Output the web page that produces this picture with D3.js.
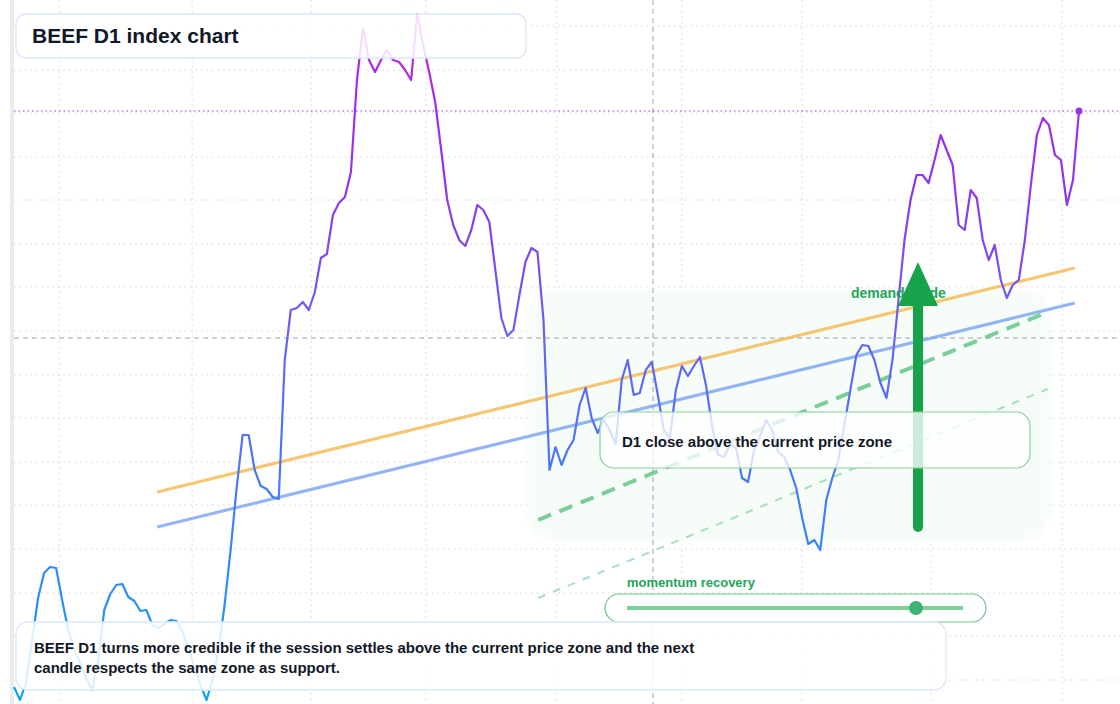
<!DOCTYPE html>
<html>
<head>
<meta charset="utf-8">
<script src="https://cdn.jsdelivr.net/npm/d3@7"></script>
<style>
  body { margin: 0; background: #fff; }
  svg { display: block; font-family: "Liberation Sans", Arial, sans-serif; }
</style>
</head>
<body>
<div id="chart"></div>
<script>
// daily closes
var closes = [51.7, 50.4, 52.1, 56.3, 60.6, 63.1, 63.7, 63.6, 60.4, 57.4, 55.4, 54.1, 52.6, 51.4, 54.4, 59.4,
  61.0, 61.9, 62.0, 60.7, 60.3, 59.3, 59.4, 57.9, 57.6, 58.0, 58.4, 58.3, 57.2, 55.6, 53.6, 51.9, 50.4, 52.4,
  55.4, 59.9, 65.4, 71.6, 76.9, 76.9, 73.4, 71.8, 71.5, 70.7, 70.5, 84.4, 89.4, 89.6, 90.2, 89.4, 91.2, 94.6,
  95.0, 98.9, 100.1, 100.7, 103.2, 112.4, 117.6, 114.4, 113.2, 114.4, 115.4, 114.4, 114.2, 113.4, 112.4, 119.0,
  115.9, 113.2, 110.2, 105.4, 100.4, 97.9, 96.4, 95.8, 97.4, 99.9, 99.4, 98.2, 93.4, 88.6, 86.8, 87.4, 90.9,
  94.2, 95.6, 95.2, 88.4, 73.4, 75.7, 73.9, 75.4, 76.4, 79.9, 81.6, 78.6, 77.1, 78.4, 77.4, 76.0, 82.4, 84.4,
  80.9, 81.1, 83.4, 84.2, 80.9, 77.4, 76.6, 81.4, 83.8, 82.8, 83.8, 84.7, 81.9, 77.9, 74.9, 74.7, 76.0, 75.6,
  72.6, 72.2, 75.4, 76.8, 78.4, 77.4, 75.2, 74.7, 73.4, 71.6, 68.6, 66.0, 66.4, 65.4, 70.4, 72.6, 74.4, 77.9,
  81.4, 84.9, 85.9, 85.8, 84.4, 82.1, 80.6, 84.4, 90.4, 96.4, 100.4, 102.9, 102.9, 102.1, 104.4, 106.9, 105.4,
  103.9, 97.9, 97.4, 101.4, 100.6, 96.4, 94.4, 95.9, 92.4, 90.6, 91.9, 92.4, 96.4, 101.9, 106.9, 108.6, 107.9,
  104.9, 104.4, 99.9, 102.4, 109.3];

var gridPrices = [117.8, 113.4, 109.1, 104.7, 100.4, 96.0, 91.7, 87.3, 82.9, 78.6, 74.2, 69.9, 65.5, 61.1, 56.8, 52.4];
var gridDays = [7.5, 29.6, 49.4, 68.5, 90.2, 111, 131, 152.4, 174.2];

// channel lines: [startDay, startPrice, endDay, endPrice]
var upperLine = [23.8, 71.2, 176.3, 93.6];
var lowerLine = [23.8, 67.7, 176.3, 90.1];
var zoneLine = [87.1, 68.4, 171.8, 89.2];
var floorLine = [87.1, 60.6, 171.8, 81.5];

var currentPrice = 86.6;
var crossDay = 106.2;
var lastPrice = closes[closes.length - 1];
var momentum = 0.86;

var W = 1120, H = 704;
var svg = d3.select("#chart").append("svg").attr("width", W).attr("height", H);

var x = d3.scaleLinear().domain([0, closes.length - 1]).range([14, 1079]);
var y = d3.scaleLinear().domain([50, 120.4]).range([704, 0]);

// left strip
svg.append("rect").attr("x", 10).attr("y", 0).attr("width", 4).attr("height", H).attr("fill", "#ebebeb");

// grid
svg.append("g").selectAll("line").data(gridPrices).join("line")
  .attr("x1", 14).attr("x2", W).attr("y1", d => y(d)).attr("y2", d => y(d))
  .attr("stroke", "#d4d4d8").attr("stroke-dasharray", "1.5,4");
svg.append("g").selectAll("line").data(gridDays).join("line")
  .attr("x1", d => x(d)).attr("x2", d => x(d)).attr("y1", 0).attr("y2", H)
  .attr("stroke", "#d4d4d8").attr("stroke-dasharray", "1.5,4");

// demand zone
var defs = svg.append("defs");
defs.append("filter").attr("id", "soft").append("feGaussianBlur").attr("stdDeviation", 4);
svg.append("rect").attr("x", 527).attr("y", 290).attr("width", 523).attr("height", 250).attr("rx", 26)
  .attr("fill", "#f6fcf7").attr("filter", "url(#soft)");

// crosshair
svg.append("line").attr("x1", x(crossDay)).attr("x2", x(crossDay)).attr("y1", 0).attr("y2", H)
  .attr("stroke", "#9ca3af").attr("stroke-dasharray", "5,4");
svg.append("line").attr("x1", 14).attr("x2", W).attr("y1", y(currentPrice)).attr("y2", y(currentPrice))
  .attr("stroke", "#9ca3af").attr("stroke-dasharray", "5,4");
svg.append("line").attr("x1", 14).attr("x2", W).attr("y1", y(lastPrice)).attr("y2", y(lastPrice))
  .attr("stroke", "#9b30f0").attr("stroke-dasharray", "1.5,3").attr("stroke-width", 1.2);

function seg(d, color, width, dash, op) {
  svg.append("line")
    .attr("x1", x(d[0])).attr("y1", y(d[1])).attr("x2", x(d[2])).attr("y2", y(d[3]))
    .attr("stroke", color).attr("stroke-width", width).attr("stroke-dasharray", dash)
    .attr("stroke-opacity", op).attr("stroke-linecap", "butt");
}
seg(floorLine, "#86d3a3", 2, "8,8", 0.7);
seg(zoneLine, "#5cc281", 4, "14,9", 0.8);
seg(upperLine, "#f5b74f", 3, null, 0.8);
seg(lowerLine, "#6f9cf2", 3, null, 0.75);

// price line with vertical colour gradient
var grad = defs.append("linearGradient").attr("id", "priceGrad")
  .attr("gradientUnits", "userSpaceOnUse").attr("x1", 0).attr("x2", 0).attr("y1", H).attr("y2", 0);
[[0, "#0ea5e9"], [0.25, "#3b82f6"], [0.5, "#6366f1"], [0.75, "#9333ea"], [1, "#c026d3"]].forEach(function (s) {
  grad.append("stop").attr("offset", s[0]).attr("stop-color", s[1]);
});
svg.append("path").datum(closes)
  .attr("fill", "none").attr("stroke", "url(#priceGrad)").attr("stroke-width", 2.2)
  .attr("stroke-linejoin", "round")
  .attr("d", d3.line().x((d, i) => x(i)).y(d => y(d)));
svg.append("circle").attr("cx", x(closes.length - 1)).attr("cy", y(lastPrice)).attr("r", 3.5).attr("fill", "#9333ea");

// demand guide arrow
svg.append("text").attr("x", 851).attr("y", 298).attr("fill", "#22a55a").attr("font-size", 14)
  .attr("font-weight", "bold").text("demand guide");
svg.append("line").attr("x1", 918).attr("x2", 918).attr("y1", 527).attr("y2", 300)
  .attr("stroke", "#16a34a").attr("stroke-width", 10).attr("stroke-linecap", "round");
svg.append("path").attr("d", "M898,306 L918,262 L938,306 Z").attr("fill", "#16a34a");

// callout
svg.append("rect").attr("x", 600).attr("y", 412).attr("width", 430).attr("height", 56).attr("rx", 14)
  .attr("fill", "#fff").attr("fill-opacity", 0.78).attr("stroke", "#86cf9f").attr("stroke-width", 1.2);
svg.append("text").attr("x", 622).attr("y", 447).attr("font-size", 15).attr("font-weight", "bold")
  .attr("fill", "#111827").text("D1 close above the current price zone");

// momentum pill
svg.append("text").attr("x", 627).attr("y", 587).attr("fill", "#22a55a").attr("font-size", 13)
  .attr("font-weight", "bold").text("momentum recovery");
svg.append("rect").attr("x", 605).attr("y", 594).attr("width", 381).attr("height", 28).attr("rx", 14)
  .attr("fill", "#fff").attr("stroke", "#6cc58a").attr("stroke-width", 1.2);
var m = d3.scaleLinear().domain([0, 1]).range([627, 963]);
svg.append("line").attr("x1", m(0)).attr("x2", m(1)).attr("y1", 608).attr("y2", 608)
  .attr("stroke", "#7fcf9b").attr("stroke-width", 4);
svg.append("circle").attr("cx", m(momentum)).attr("cy", 608).attr("r", 7).attr("fill", "#3cb371");

// title
svg.append("rect").attr("x", 16).attr("y", 14).attr("width", 510).attr("height", 44).attr("rx", 10)
  .attr("fill", "#fff").attr("fill-opacity", 0.85).attr("stroke", "#dbe7fb").attr("stroke-width", 1.3);
svg.append("text").attr("x", 32).attr("y", 43).attr("font-size", 21).attr("font-weight", "bold")
  .attr("fill", "#111827").text("BEEF D1 index chart");

// note
svg.append("rect").attr("x", 16).attr("y", 622).attr("width", 930).attr("height", 68).attr("rx", 12)
  .attr("fill", "#fff").attr("fill-opacity", 0.85).attr("stroke", "#dbe7fb").attr("stroke-width", 1.3);
var note = svg.append("text").attr("font-size", 15).attr("font-weight", "bold").attr("fill", "#111827");
note.append("tspan").attr("x", 34).attr("y", 653)
  .text("BEEF D1 turns more credible if the session settles above the current price zone and the next");
note.append("tspan").attr("x", 34).attr("y", 673).text("candle respects the same zone as support.");
</script>
</body>
</html>
